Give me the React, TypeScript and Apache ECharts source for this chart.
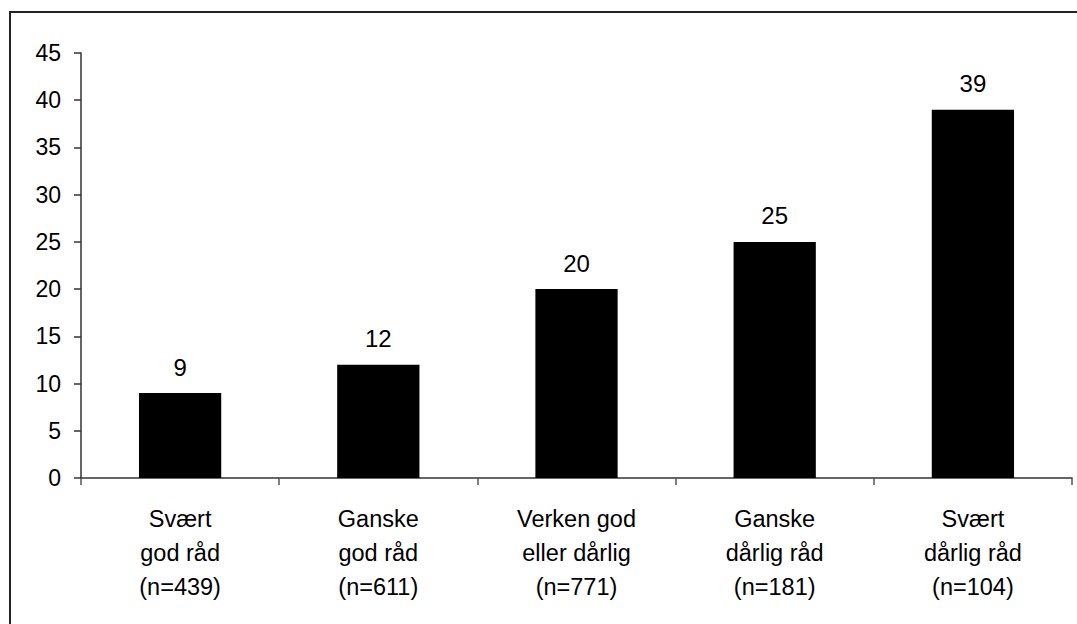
import React, { useEffect, useRef } from "react";
import * as echarts from "echarts";

const categories = [
  "Svært\ngod råd\n(n=439)",
  "Ganske\ngod råd\n(n=611)",
  "Verken god\neller dårlig\n(n=771)",
  "Ganske\ndårlig råd\n(n=181)",
  "Svært\ndårlig råd\n(n=104)",
];
const values = [9, 12, 20, 25, 39];

const FONT = "'Liberation Sans', Arial, Helvetica, sans-serif";

export default function App() {
  const ref = useRef<HTMLDivElement>(null);
  useEffect(() => {
    if (!ref.current) return;
    const chart = echarts.init(ref.current, undefined, { renderer: "svg" });
    chart.setOption({
      animation: false,
      backgroundColor: "#fff",
      textStyle: { fontFamily: FONT },
      graphic: [
        {
          type: "rect",
          shape: { x: 10, y: 12, width: 1200, height: 800 },
          style: { fill: "none", stroke: "#222", lineWidth: 2 },
          silent: true,
          z: -1,
        },
      ],
      grid: { left: 81, right: 5, top: 53, bottom: 146, containLabel: false },
      xAxis: {
        type: "category",
        data: categories,
        axisLine: { lineStyle: { color: "#333", width: 1.5 } },
        axisTick: { show: true, length: 7, alignWithLabel: false, lineStyle: { color: "#555", width: 1.5 } },
        axisLabel: {
          color: "#000",
          fontSize: 23.5,
          fontFamily: FONT,
          lineHeight: 34,
          margin: 24,
          interval: 0,
          align: "center",
          verticalAlign: "top",
        },
      },
      yAxis: {
        type: "value",
        min: 0,
        max: 45,
        interval: 5,
        splitLine: { show: false },
        axisLine: { show: true, lineStyle: { color: "#333", width: 1.5 } },
        axisTick: { show: true, length: 7, lineStyle: { color: "#333", width: 1.5 } },
        axisLabel: { color: "#000", fontSize: 23, fontFamily: FONT, margin: 20 },
      },
      series: [
        {
          type: "bar",
          data: values,
          barWidth: "41.5%",
          itemStyle: { color: "#000" },
          label: {
            show: true,
            position: "top",
            distance: 14,
            color: "#000",
            fontSize: 24,
            fontFamily: FONT,
          },
        },
      ],
    });
    return () => chart.dispose();
  }, []);
  return (
    <div
      ref={ref}
      style={{ position: "fixed", left: 0, top: 0, width: 1077, height: 624 }}
    />
  );
}
